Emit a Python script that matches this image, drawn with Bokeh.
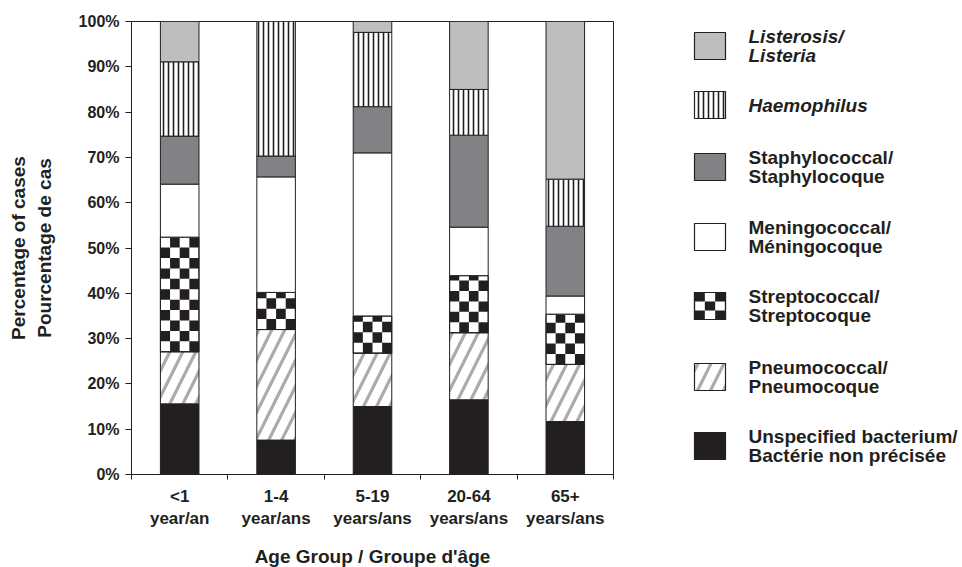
import math
from bokeh.plotting import figure
from bokeh.models import Range1d, FixedTicker, ColumnDataSource
from bokeh.layouts import row
from bokeh.embed import file_html
from bokeh.resources import INLINE
from bokeh.core.properties import value

# ---------------- data ----------------
age_groups = ["<1\nyear/an", "1-4\nyear/ans", "5-19\nyears/ans",
              "20-64\nyears/ans", "65+\nyears/ans"]
unspecified = [15.6, 7.6, 15.0, 16.5, 11.7]
pneumococcal = [11.5, 24.4, 11.8, 14.8, 12.6]
streptococcal = [25.3, 8.2, 8.2, 12.6, 11.1]
meningococcal = [11.7, 25.5, 36.0, 10.7, 4.0]
staphylococcal = [10.6, 4.6, 10.2, 20.3, 15.4]
haemophilus = [16.4, 29.7, 16.4, 10.1, 10.4]
listeria = [8.9, 0.0, 2.4, 15.0, 34.8]
y_tick_values = [0, 10, 20, 30, 40, 50, 60, 70, 80, 90, 100]
y_tick_labels = ["0%", "10%", "20%", "30%", "40%", "50%", "60%", "70%", "80%", "90%", "100%"]
x_title = "Age Group / Groupe d'âge"
y_title = "Percentage of cases\nPourcentage de cas"

legend_labels = {
    "listeria": ["Listerosis/", "Listeria"],
    "haemophilus": ["Haemophilus"],
    "staphylococcal": ["Staphylococcal/", "Staphylocoque"],
    "meningococcal": ["Meningococcal/", "Méningocoque"],
    "streptococcal": ["Streptococcal/", "Streptocoque"],
    "pneumococcal": ["Pneumococcal/", "Pneumocoque"],
    "unspecified": ["Unspecified bacterium/", "Bactérie non précisée"],
}

series = [
    ("unspecified", unspecified),
    ("pneumococcal", pneumococcal),
    ("streptococcal", streptococcal),
    ("meningococcal", meningococcal),
    ("staphylococcal", staphylococcal),
    ("haemophilus", haemophilus),
    ("listeria", listeria),
]

# ---------------- styles ----------------
DARK = "#231f20"
FONT_NAME = "Liberation Sans"
FONT = value(FONT_NAME)
styles = {
    "unspecified": dict(fill_color=DARK),
    "pneumococcal": dict(fill_color="white", hatch_pattern="right_diagonal_line",
                         hatch_color="#a9abae", hatch_weight=3.2, hatch_scale=26),
    "streptococcal": dict(fill_color="white"),
    "meningococcal": dict(fill_color="white"),
    "staphylococcal": dict(fill_color="#808285"),
    "haemophilus": dict(fill_color="white", hatch_pattern="vertical_line",
                        hatch_color=DARK, hatch_weight=1.6, hatch_scale=5),
    "listeria": dict(fill_color="#bcbec0"),
}
italic_series = {"listeria", "haemophilus"}

BAR_W = 0.4
CHECK_COLS = 4
CHECK_H = 2.3
FIG_H = 567
TOP_B, FRAME_H = 21, 453
BOT_B = FIG_H - TOP_B - FRAME_H

# ---------------- main chart ----------------
p = figure(frame_width=482, frame_height=FRAME_H, x_range=Range1d(0, 5), y_range=Range1d(0, 100),
           toolbar_location=None, output_backend="svg", title_location=None,
           min_border_left=131, min_border_top=TOP_B, min_border_bottom=BOT_B,
           min_border_right=12)
p.grid.visible = False
p.outline_line_color = DARK
p.outline_line_width = 1
p.background_fill_color = "white"
p.border_fill_color = "white"

xs = [i + 0.5 for i in range(len(age_groups))]
bottoms = [0.0] * len(xs)
for name, vals in series:
    tops = [b + v for b, v in zip(bottoms, vals)]
    keep = [i for i, v in enumerate(vals) if v > 0]
    src = ColumnDataSource(dict(x=[xs[i] for i in keep],
                                bottom=[bottoms[i] for i in keep],
                                top=[tops[i] for i in keep]))
    p.vbar(x="x", width=BAR_W, bottom="bottom", top="top", source=src,
           line_color=DARK, line_width=1, **styles[name])
    if name == "streptococcal":
        L, R, B, T = [], [], [], []
        cw = BAR_W / CHECK_COLS
        for i in keep:
            b, t = bottoms[i], tops[i]
            nrows = int(math.ceil((t - b) / CHECK_H - 1e-9))
            for r in range(nrows):
                y0 = b + r * CHECK_H
                y1 = min(y0 + CHECK_H, t)
                for c in range(CHECK_COLS):
                    if (r + c) % 2 == 1:
                        left = xs[i] - BAR_W / 2 + c * cw
                        L.append(left); R.append(left + cw); B.append(y0); T.append(y1)
        p.quad(left=L, right=R, bottom=B, top=T, fill_color=DARK, line_color=None)
        p.vbar(x="x", width=BAR_W, bottom="bottom", top="top", source=src,
               fill_alpha=0, line_color=DARK, line_width=1)
    bottoms = tops

# axes
xa = p.xaxis[0]
xa.ticker = FixedTicker(ticks=xs, minor_ticks=[0, 1, 2, 3, 4, 5])
xa.major_label_overrides = {x: lab for x, lab in zip(xs, age_groups)}
xa.major_tick_out = 0
xa.major_tick_in = 0
xa.minor_tick_out = 5
xa.minor_tick_in = 0
xa.minor_tick_line_color = DARK
xa.axis_line_color = DARK
xa.major_label_standoff = 7
xa.major_label_text_font = FONT_NAME
xa.major_label_text_font_style = "bold"
xa.major_label_text_font_size = "17px"
xa.major_label_text_color = DARK
xa.axis_label = x_title
xa.axis_label_text_font = FONT_NAME
xa.axis_label_text_font_style = "bold"
xa.axis_label_text_font_size = "19px"
xa.axis_label_text_color = DARK
xa.axis_label_standoff = 15

ya = p.yaxis[0]
ya.ticker = FixedTicker(ticks=y_tick_values)
ya.major_label_overrides = {v: lab for v, lab in zip(y_tick_values, y_tick_labels)}
ya.major_tick_out = 6
ya.major_tick_in = 0
ya.minor_tick_out = 0
ya.minor_tick_in = 0
ya.major_tick_line_color = DARK
ya.axis_line_color = DARK
ya.major_label_standoff = 6
ya.major_label_text_font = FONT_NAME
ya.major_label_text_font_style = "bold"
ya.major_label_text_font_size = "16px"
ya.major_label_text_color = DARK
ya.axis_label = y_title
ya.axis_label_text_font = FONT_NAME
ya.axis_label_text_font_style = "bold"
ya.axis_label_text_font_size = "19px"
ya.axis_label_text_color = DARK
ya.axis_label_standoff = 21

# ---------------- legend panel (coordinates = page pixels) ----------------
LG_W = 337
lg = figure(frame_width=LG_W, frame_height=FRAME_H,
            x_range=Range1d(0, LG_W), y_range=Range1d(TOP_B + FRAME_H, TOP_B),
            toolbar_location=None, output_backend="svg",
            min_border_left=0, min_border_right=0,
            min_border_top=TOP_B, min_border_bottom=BOT_B,
            title_location=None, x_axis_location=None, y_axis_location=None)
lg.grid.visible = False
lg.outline_line_color = None

legend_order = ["listeria", "haemophilus", "staphylococcal", "meningococcal",
                "streptococcal", "pneumococcal", "unspecified"]
legend_top = [32, 91, 153, 223, 292, 363, 432]
SW_L, SW_W, SW_H = 69, 31, 27
TXT_X = 123
LINE_GAP = 19

for name, top in zip(legend_order, legend_top):
    lg.quad(left=[SW_L], right=[SW_L + SW_W], top=[top], bottom=[top + SW_H],
            line_color=DARK, line_width=1.2, **styles[name])
    if name == "streptococcal":
        cw, ch = SW_W / 3, SW_H / 3
        L, R, B, T = [], [], [], []
        for r in range(3):
            for c in range(3):
                if (r + c) % 2 == 0:
                    L.append(SW_L + c * cw); R.append(SW_L + (c + 1) * cw)
                    T.append(top + r * ch); B.append(top + (r + 1) * ch)
        lg.quad(left=L, right=R, top=T, bottom=B, fill_color=DARK, line_color=None)
        lg.quad(left=[SW_L], right=[SW_L + SW_W], top=[top], bottom=[top + SW_H],
                fill_alpha=0, line_color=DARK, line_width=1.2)
    lines = legend_labels[name]
    cy = top + SW_H / 2
    n = len(lines)
    ys = [cy + (k - (n - 1) / 2) * LINE_GAP for k in range(n)]
    lg.text(x=[TXT_X] * n, y=ys, text=lines, text_baseline="middle", text_align="left",
            text_font=FONT,
            text_font_style="bold italic" if name in italic_series else "bold",
            text_font_size="19px", text_color=DARK)

layout = row(p, lg)
open("out.html", "w").write(file_html(layout, INLINE))
